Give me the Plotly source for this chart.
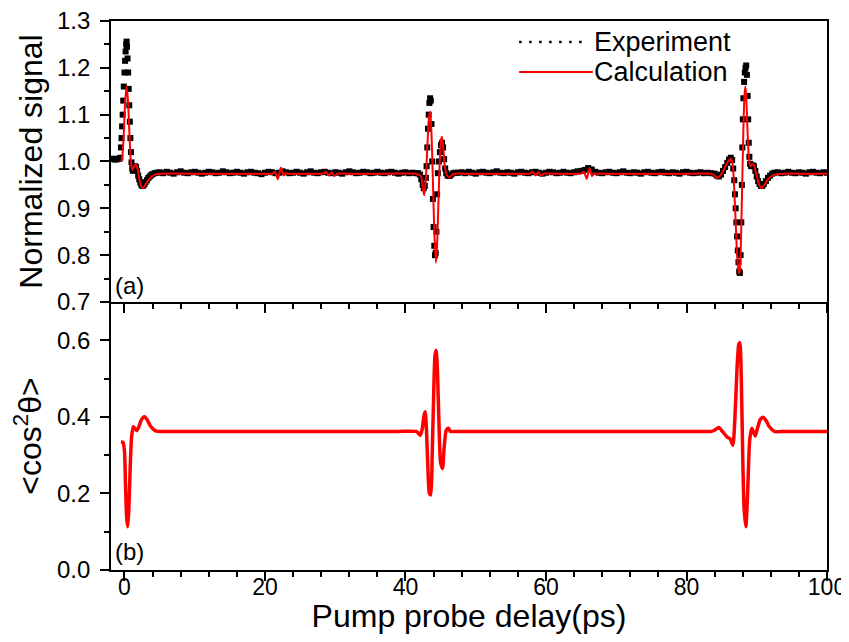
import numpy as np
import plotly.graph_objects as go

# ---------------- (a) Experiment: normalized signal ----------------
exp_rev1_t = [-1.9, -1.6, -1.3, -1.0, -0.75, -0.6,
              -0.5, -0.42, -0.34, -0.26, -0.18, -0.1, 0.0, 0.08, 0.16, 0.24, 0.3, 0.36,
              0.44, 0.52, 0.6, 0.68, 0.76, 0.84, 0.92, 1.0, 1.1, 1.2,
              1.35, 1.5, 1.65, 1.8, 1.95, 2.1, 2.25, 2.4, 2.55, 2.7, 2.85, 3.0,
              3.2, 3.4, 3.6, 3.8, 4.0, 4.3, 4.6]
exp_rev1_v = [1.005, 1.006, 1.004, 1.005, 1.006, 1.008,
              1.03, 1.05, 1.075, 1.10, 1.13, 1.16, 1.19, 1.215, 1.235, 1.25, 1.256, 1.245,
              1.22, 1.19, 1.155, 1.12, 1.085, 1.05, 1.02, 0.998, 0.985, 0.98,
              0.985, 0.99, 0.988, 0.98, 0.97, 0.962, 0.955, 0.95, 0.948, 0.949, 0.952, 0.956,
              0.96, 0.965, 0.968, 0.971, 0.973, 0.975, 0.976]

exp_flatA_start, exp_flatA_step = 5.0, 0.5
exp_flatA_v = [0.977, 0.975, 0.978, 0.976, 0.974, 0.977, 0.979, 0.976, 0.975, 0.977,
               0.978, 0.976, 0.974, 0.976, 0.978, 0.977, 0.975, 0.976, 0.979, 0.977,
               0.975, 0.976, 0.978, 0.976, 0.974, 0.977, 0.978, 0.976, 0.975, 0.973,
               0.976, 0.978, 0.977, 0.975, 0.976, 0.979, 0.977, 0.975, 0.976, 0.978,
               0.976, 0.974, 0.977, 0.979, 0.976, 0.975, 0.977, 0.978, 0.976, 0.975,
               0.977, 0.976, 0.974, 0.977, 0.979, 0.977, 0.975, 0.976, 0.978, 0.977,
               0.975, 0.976, 0.978, 0.976, 0.975, 0.977, 0.978, 0.976, 0.974, 0.976,
               0.977, 0.975, 0.976, 0.975]

exp_rev2_t = [41.8, 42.05, 42.25, 42.45, 42.6, 42.75, 42.9, 43.0, 43.1, 43.2, 43.3, 43.4,
              43.5, 43.6, 43.7, 43.8, 43.9, 44.0, 44.1, 44.2, 44.3, 44.4, 44.5, 44.6,
              44.75, 44.9, 45.05, 45.2, 45.35, 45.5, 45.65, 45.8, 46.0, 46.25, 46.5, 46.8, 47.1]
exp_rev2_v = [0.975, 0.972, 0.962, 0.950, 0.943, 0.948, 0.965, 0.99, 1.03, 1.07, 1.10, 1.125,
              1.135, 1.13, 1.08, 1.00, 0.92, 0.86, 0.82, 0.80, 0.805, 0.85, 0.93, 0.975,
              1.0, 1.02, 1.035, 1.04, 1.03, 1.005, 0.985, 0.975, 0.970, 0.969, 0.972, 0.975, 0.976]

exp_flatB_start, exp_flatB_step = 47.5, 0.5
exp_flatB_v = [0.976, 0.977, 0.975, 0.978, 0.976, 0.974, 0.977, 0.978, 0.976, 0.975,
               0.977, 0.979, 0.976, 0.975, 0.977, 0.976, 0.974, 0.977, 0.978, 0.976,
               0.975, 0.977, 0.978, 0.976, 0.974, 0.976, 0.978, 0.977, 0.975, 0.976,
               0.978, 0.976, 0.975, 0.977, 0.979, 0.980, 0.982, 0.986, 0.983, 0.978,
               0.976, 0.975, 0.977, 0.978, 0.976, 0.975, 0.977, 0.979, 0.976, 0.975,
               0.977, 0.976, 0.974, 0.977, 0.978, 0.976, 0.975, 0.977, 0.978, 0.976,
               0.975, 0.977, 0.976, 0.974, 0.977, 0.978, 0.976, 0.975, 0.976, 0.977,
               0.975, 0.976, 0.975]

exp_rev3_t = [84.0, 84.3, 84.6, 84.9, 85.2, 85.5, 85.8, 86.05, 86.3, 86.5, 86.65, 86.8,
              86.9, 87.0, 87.1, 87.2, 87.3, 87.4, 87.5, 87.6, 87.7, 87.8, 87.88, 87.95,
              88.02, 88.1, 88.2, 88.3, 88.4, 88.5, 88.6, 88.7, 88.78, 88.86, 88.95, 89.05,
              89.2, 89.4, 89.6, 89.8, 90.0, 90.2, 90.4, 90.6, 90.8, 91.0, 91.3, 91.6, 91.9, 92.2]
exp_rev3_v = [0.974, 0.970, 0.968, 0.972, 0.980, 0.988, 0.997, 1.004, 1.008, 1.003, 0.985, 0.96,
              0.93, 0.90, 0.87, 0.84, 0.81, 0.785, 0.765, 0.762, 0.80, 0.87, 0.95, 1.03,
              1.09, 1.135, 1.17, 1.19, 1.20, 1.205, 1.185, 1.14, 1.09, 1.04, 1.01, 0.995,
              0.99, 0.992, 0.99, 0.98, 0.968, 0.958, 0.952, 0.948, 0.948, 0.952, 0.958, 0.965, 0.970, 0.974]

exp_flatC_start, exp_flatC_step = 92.5, 0.5
exp_flatC_v = [0.976, 0.977, 0.975, 0.976, 0.978, 0.976, 0.975, 0.977, 0.976, 0.974,
               0.977, 0.978, 0.976, 0.975, 0.977, 0.976]

# ---------------- (a) Calculation ----------------
calc_t = [-0.45, -0.3, -0.1, 0.1, 0.3, 0.5, 0.7, 0.9, 1.1, 1.35, 1.6, 1.85, 2.1, 2.35, 2.6, 2.9, 3.3, 3.8, 4.5, 5.5,
          10.0, 15.0, 20.5,
          21.1, 21.44, 21.82, 22.29, 22.62, 22.9, 23.2, 25.0, 27.5,
          28.3, 28.7, 29.1, 29.5, 29.9, 30.3, 31.5, 35.0, 38.0,
          41.5, 42.2, 42.45, 42.66, 42.85, 43.0, 43.2, 43.35, 43.52, 43.7, 43.9, 44.1, 44.33, 44.5, 44.7,
          44.9, 45.05, 45.18, 45.35, 45.6, 45.9, 46.27, 46.6, 47.0, 48.5, 52.0, 55.0, 57.0,
          57.7, 58.1, 58.5, 58.9, 59.3, 59.7, 61.0, 63.0, 64.3,
          65.0, 65.4, 65.8, 66.2, 66.55, 66.9, 67.2, 69.0, 73.0, 77.0, 81.0,
          83.5, 84.0, 84.4, 84.8, 85.3, 85.8, 86.1, 86.2, 86.35, 86.6, 86.8, 87.0, 87.2, 87.4, 87.55,
          87.7, 87.9, 88.1, 88.25, 88.38, 88.5, 88.7, 88.9, 89.1, 89.35, 89.6, 89.9, 90.3, 90.67,
          91.0, 91.5, 92.0, 92.9, 94.0, 97.0, 100.0]
calc_v = [1.000, 1.012, 1.06, 1.13, 1.16, 1.13, 1.06, 1.00, 0.982, 0.989, 0.994, 0.985, 0.963, 0.948, 0.943, 0.948, 0.958, 0.967, 0.973, 0.974,
          0.974, 0.974, 0.974,
          0.974, 0.978, 0.962, 0.987, 0.970, 0.975, 0.974, 0.974, 0.974,
          0.974, 0.978, 0.970, 0.977, 0.969, 0.974, 0.974, 0.974, 0.974,
          0.974, 0.969, 0.945, 0.928, 0.95, 0.995, 1.06, 1.095, 1.106, 1.06, 0.96, 0.85, 0.784, 0.82, 0.92,
          1.01, 1.045, 1.053, 1.035, 0.99, 0.97, 0.966, 0.971, 0.974, 0.974, 0.974, 0.974, 0.974,
          0.974, 0.978, 0.970, 0.977, 0.970, 0.974, 0.974, 0.974, 0.974,
          0.974, 0.978, 0.963, 0.986, 0.969, 0.975, 0.974, 0.974, 0.974, 0.974, 0.974,
          0.974, 0.970, 0.965, 0.970, 0.982, 0.997, 1.003, 1.001, 1.007, 0.99, 0.94, 0.87, 0.80, 0.766, 0.761,
          0.80, 0.93, 1.07, 1.14, 1.16, 1.14, 1.06, 1.005, 0.99, 0.994, 0.992, 0.975, 0.952, 0.943,
          0.948, 0.96, 0.968, 0.973, 0.974, 0.974, 0.974]

# ---------------- (b) <cos^2 theta> ----------------
cos_t = [-0.5, -0.2, 0.0, 0.15, 0.3, 0.45, 0.6, 0.8, 1.0, 1.25, 1.5, 1.73, 2.0, 2.4, 2.83, 3.2, 3.7, 4.2, 4.7,
         6.0, 10.0, 15.0, 20.0, 25.0, 30.0, 35.0, 39.0,
         41.5, 41.8, 42.1, 42.4, 42.6, 42.8, 43.0, 43.2, 43.4, 43.6, 43.8, 44.0, 44.2, 44.37, 44.55, 44.8,
         45.0, 45.27, 45.5, 45.8, 46.1, 46.4,
         47.5, 52.0, 57.0, 62.0, 67.0, 72.0, 77.0, 81.5,
         83.5, 84.0, 84.6, 85.2, 85.8, 86.2, 86.6, 86.9, 87.2, 87.45, 87.6, 87.8, 88.0, 88.2, 88.45, 88.7,
         89.0, 89.3, 89.55, 89.8, 90.1, 90.5, 90.9, 91.3, 91.8, 92.5, 94.0, 97.0, 100.0]
cos_v = [0.335, 0.333, 0.31, 0.22, 0.14, 0.113, 0.15, 0.26, 0.345, 0.374, 0.369, 0.364, 0.372, 0.392, 0.400, 0.393, 0.376, 0.366, 0.362,
         0.362, 0.362, 0.362, 0.362, 0.362, 0.362, 0.362, 0.362,
         0.362, 0.358, 0.352, 0.37, 0.40, 0.413, 0.36, 0.26, 0.20, 0.196, 0.30, 0.45, 0.56, 0.574, 0.52, 0.36,
         0.28, 0.265, 0.32, 0.365, 0.370, 0.362,
         0.362, 0.362, 0.362, 0.362, 0.362, 0.362, 0.362, 0.362,
         0.362, 0.365, 0.372, 0.36, 0.347, 0.343, 0.326, 0.40, 0.53, 0.59, 0.594, 0.50, 0.30, 0.16, 0.113, 0.20,
         0.34, 0.370, 0.36, 0.35, 0.37, 0.393, 0.399, 0.391, 0.374, 0.362, 0.362, 0.362, 0.362]

x_tick_vals = [0, 20, 40, 60, 80, 100]


def seg(start, step, vals):
    return [start + step * i for i in range(len(vals))]


exp_t = (exp_rev1_t + seg(exp_flatA_start, exp_flatA_step, exp_flatA_v) + exp_rev2_t
         + seg(exp_flatB_start, exp_flatB_step, exp_flatB_v) + exp_rev3_t
         + seg(exp_flatC_start, exp_flatC_step, exp_flatC_v))
exp_v = exp_rev1_v + exp_flatA_v + exp_rev2_v + exp_flatB_v + exp_rev3_v + exp_flatC_v

FONT = "Liberation Sans, Arial, sans-serif"
fig = go.Figure()

fig.add_trace(go.Scatter(x=exp_t, y=exp_v, mode="markers", name="Experiment",
                         marker=dict(symbol="square", size=6, color="black", line=dict(width=0)),
                         xaxis="x", yaxis="y", showlegend=False))
fig.add_trace(go.Scatter(x=calc_t, y=calc_v, mode="lines", name="Calculation",
                         line=dict(color="#ff0000", width=2, shape="spline", smoothing=0.6),
                         xaxis="x", yaxis="y", showlegend=False))
fig.add_trace(go.Scatter(x=cos_t, y=cos_v, mode="lines", name="cos2",
                         line=dict(color="#ff0000", width=3.5, shape="spline", smoothing=0.6),
                         xaxis="x2", yaxis="y2", showlegend=False))

XR = [-1.92, 100]
split = 0.4882
axis_common = dict(showline=True, linecolor="black", linewidth=1.8, showgrid=False, zeroline=False,
                   tickcolor="black", tickwidth=1.5, ticklen=9, automargin=False,
                   ticklabeloverflow="allow")
ytickfont = dict(family=FONT, size=24, color="black")
xtickfont = dict(family=FONT, size=23, color="black")
minor_x_out = dict(dtick=4, tick0=0, ticks="outside", ticklen=5, tickwidth=1.5, tickcolor="black")

# the page body adds an 8px margin all round, so the figure is sized to fit inside it
fig.update_layout(
    width=841, height=626,
    margin=dict(l=103, r=22, t=13, b=64, autoexpand=False),
    paper_bgcolor="white", plot_bgcolor="white",
    font=dict(family=FONT, color="black"),
    xaxis=dict(axis_common, domain=[0, 1], anchor="y", range=XR, tickvals=x_tick_vals,
               ticks="outside", showticklabels=False, mirror=True, minor=minor_x_out),
    xaxis3=dict(axis_common, overlaying="x", side="top", anchor="y", range=XR, tickvals=x_tick_vals,
                ticks="inside", showticklabels=False, showline=False,
                minor=dict(dtick=4, tick0=0, ticks="inside", ticklen=5, tickwidth=1.5, tickcolor="black")),
    yaxis=dict(axis_common, domain=[split, 1], anchor="x", range=[0.7, 1.3], dtick=0.1, tick0=0.7,
               tickformat=".1f", ticks="outside", mirror=True, tickfont=ytickfont, ticklabelstandoff=5,
               minor=dict(dtick=0.05, ticks="outside", ticklen=5, tickwidth=1.5, tickcolor="black"),
               title=dict(text="Normalized signal", font=dict(family=FONT, size=32), standoff=5)),
    xaxis2=dict(axis_common, domain=[0, 1], anchor="y2", range=XR, tickvals=x_tick_vals,
                ticks="outside", tickfont=xtickfont, ticklabelstandoff=-14, minor=minor_x_out,
                title=dict(text="Pump probe delay(ps)", font=dict(family=FONT, size=32), standoff=8)),
    yaxis2=dict(axis_common, domain=[0, split], anchor="x2", range=[0, 0.7], dtick=0.2, tick0=0,
                tickformat=".1f", ticks="outside", mirror=True, tickfont=ytickfont, ticklabelstandoff=5,
                minor=dict(dtick=0.1, ticks="outside", ticklen=5, tickwidth=1.5, tickcolor="black"),
                title=dict(text="&lt;cos<sup>2</sup>θ&gt;", font=dict(family=FONT, size=32), standoff=13)),
)

# legend drawn inside the upper panel
fig.add_shape(type="line", xref="paper", yref="paper", x0=0.570, x1=0.664, y0=0.9617, y1=0.9617,
              line=dict(color="black", width=2.5, dash="2.5px,7.5px"))
fig.add_shape(type="line", xref="paper", yref="paper", x0=0.570, x1=0.673, y0=0.9071, y1=0.9071,
              line=dict(color="#ff0000", width=2))
fig.add_annotation(text="Experiment", xref="paper", yref="paper", x=0.6718, y=0.9617,
                   xanchor="left", yanchor="middle", showarrow=False,
                   font=dict(family=FONT, size=27, color="black"))
fig.add_annotation(text="Calculation", xref="paper", yref="paper", x=0.6718, y=0.9071,
                   xanchor="left", yanchor="middle", showarrow=False,
                   font=dict(family=FONT, size=27, color="black"))
fig.add_annotation(text="(a)", xref="paper", yref="paper", x=0.003, y=0.519,
                   xanchor="left", yanchor="middle", showarrow=False,
                   font=dict(family=FONT, size=24, color="black"))
fig.add_annotation(text="(b)", xref="paper", yref="paper", x=0.003, y=0.033,
                   xanchor="left", yanchor="middle", showarrow=False,
                   font=dict(family=FONT, size=24, color="black"))

fig.write_html("out.html")
